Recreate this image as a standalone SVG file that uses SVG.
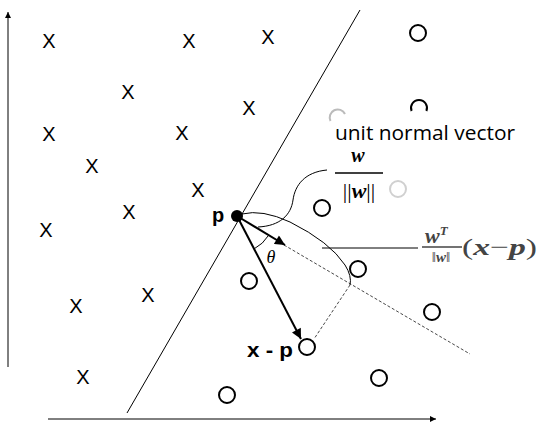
<svg xmlns="http://www.w3.org/2000/svg" width="542" height="428" viewBox="0 0 542 428">
<defs>
<marker id="ah" viewBox="0 0 10 10" refX="10" refY="5" markerWidth="6" markerHeight="6" markerUnits="userSpaceOnUse" orient="auto"><path d="M0,0 L10,5 L0,10 z" fill="#000"/></marker>
<marker id="ahb" viewBox="0 0 10 10" refX="10" refY="5" markerWidth="11" markerHeight="10" markerUnits="userSpaceOnUse" orient="auto"><path d="M0,0 L10,5 L0,10 z" fill="#000"/></marker>
<style>
.x{font-family:"Liberation Sans",Arial,sans-serif;font-size:20px;fill:#000;text-anchor:middle}
.o{fill:#fff;stroke:#000;stroke-width:2}
.thin{fill:none;stroke:#000;stroke-width:1}
.dash{fill:none;stroke:#333;stroke-width:0.9;stroke-dasharray:3,2}
.lbl{font-family:"Liberation Sans",Arial,sans-serif;font-weight:bold;font-size:20px;fill:#000}
.math{font-family:"Liberation Serif","DejaVu Serif",serif;font-weight:bold;font-style:italic}
</style>
</defs>
<rect width="542" height="428" fill="#fff"/>
<g id="axes">
<line x1="8" y1="367" x2="8" y2="12" stroke="#000" stroke-width="1" marker-end="url(#ah)"/>
<line x1="48" y1="419" x2="436" y2="419" stroke="#000" stroke-width="1" marker-end="url(#ah)"/>
</g>
<g id="class-x">
<g id="x1"><text class="x" x="49" y="48">X</text></g>
<g id="x2"><text class="x" x="189" y="48">X</text></g>
<g id="x3"><text class="x" x="268" y="44">X</text></g>
<g id="x4"><text class="x" x="128" y="99">X</text></g>
<g id="x5"><text class="x" x="249" y="115">X</text></g>
<g id="x6"><text class="x" x="49" y="141">X</text></g>
<g id="x7"><text class="x" x="182" y="140">X</text></g>
<g id="x8"><text class="x" x="92" y="173">X</text></g>
<g id="x9"><text class="x" x="198" y="197">X</text></g>
<g id="x10"><text class="x" x="129" y="219">X</text></g>
<g id="x11"><text class="x" x="46" y="237">X</text></g>
<g id="x12"><text class="x" x="148" y="302">X</text></g>
<g id="x13"><text class="x" x="76" y="313">X</text></g>
<g id="x14"><text class="x" x="83" y="384">X</text></g>
</g>
<g id="class-o">
<g id="o1"><circle class="o" cx="418" cy="33" r="8"/></g>
<g id="o2"><path d="M411.6,111 A8,8 0 1 1 426.4,111" fill="none" stroke="#000" stroke-width="2"/></g>
<g id="o3"><path d="M330.5,121 A8,8 0 0 1 345,114" fill="none" stroke="#bbb" stroke-width="2"/></g>
<g id="o4"><circle cx="398" cy="189" r="8" fill="#fff" stroke="#d0d0d0" stroke-width="2"/></g>
<g id="o5"><circle class="o" cx="322" cy="208" r="8"/></g>
<g id="o6"><circle class="o" cx="249" cy="281" r="8"/></g>
<g id="o7"><circle class="o" cx="358" cy="269" r="8"/></g>
<g id="o8"><circle class="o" cx="432" cy="312" r="8"/></g>
<g id="o9"><circle class="o" cx="307" cy="347" r="8"/></g>
<g id="o10"><circle class="o" cx="379" cy="378" r="8"/></g>
<g id="o11"><circle class="o" cx="227" cy="395" r="8"/></g>
</g>
<g id="connectors">
<line id="boundary" x1="127" y1="413" x2="360" y2="10" class="thin"/>
<line id="proj-axis" x1="284" y1="245" x2="470" y2="354" class="dash"/>
<line id="proj-drop" x1="350" y1="285" x2="314" y2="339" class="dash"/>
<line id="unit-normal" x1="237" y1="216" x2="285" y2="245" stroke="#000" stroke-width="2" marker-end="url(#ahb)"/>
<line id="x-minus-p" x1="237" y1="216" x2="301" y2="339" stroke="#000" stroke-width="2" marker-end="url(#ahb)"/>
<path id="theta-arc" d="M268.5,235.4 A37,37 0 0 1 254.2,248.8" class="thin" stroke-width="1.2"/>
<path id="brace" d="M242,214 Q262,209 290,222 Q330,242 345,265 Q352,276 350,285" class="thin"/>
<line id="brace-leader" x1="322" y1="248" x2="418" y2="248" class="thin"/>
<path id="normal-leader" d="M327,170 C305,172 295,185 293,200 C291,215 280,226 258,227" class="thin"/>
</g>
<g id="point-p">
<circle cx="237" cy="216" r="6" fill="#000"/>
<text class="lbl" x="212" y="222">p</text>
</g>
<g id="label-theta"><text x="271" y="263" font-family="'Liberation Serif',serif" font-style="italic" font-size="18" text-anchor="middle">θ</text></g>
<g id="label-xp"><text class="lbl" x="247" y="357" textLength="46" lengthAdjust="spacingAndGlyphs">x - p</text></g>
<g id="label-unit-normal">
<text x="335" y="140" font-family="'Open Sans','Noto Sans',sans-serif" font-size="20" fill="#000" textLength="180" lengthAdjust="spacingAndGlyphs">unit normal vector</text>
<text class="math" x="358" y="162" font-size="20" text-anchor="middle">w</text>
<line x1="335" y1="173" x2="383" y2="173" stroke="#000" stroke-width="1.5"/>
<text x="359" y="198" font-family="'Liberation Serif',serif" font-size="22" text-anchor="middle"><tspan>||</tspan><tspan class="math">w</tspan><tspan>||</tspan></text>
</g>
<g id="label-projection" fill="#444">
<text class="math" x="425" y="243" font-size="22">w<tspan font-size="13" dy="-8">T</tspan></text>
<line x1="422" y1="247" x2="462" y2="247" stroke="#444" stroke-width="1.3"/>
<text x="441" y="262" font-family="'Liberation Serif',serif" font-size="15" text-anchor="middle">‖<tspan class="math">w</tspan>‖</text>
<text x="462" y="255" font-family="'Liberation Serif',serif" font-size="24" textLength="75" lengthAdjust="spacingAndGlyphs">(<tspan class="math">x</tspan><tspan>−</tspan><tspan class="math">p</tspan>)</text>
</g>
</svg>
